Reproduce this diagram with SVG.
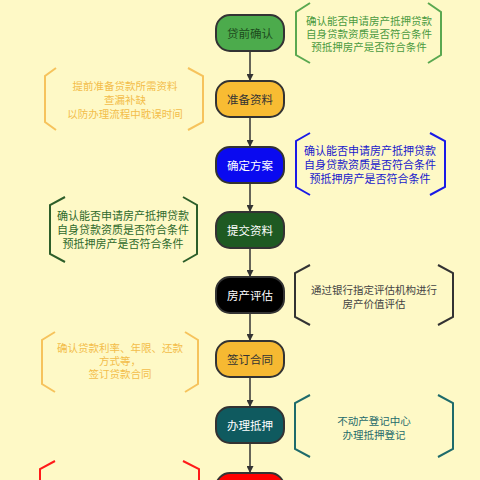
<svg xmlns="http://www.w3.org/2000/svg" width="480" height="480" viewBox="0 0 480 480">
<defs>
<marker id="ah" viewBox="0 0 10 10" refX="10" refY="5" markerWidth="7" markerHeight="7" markerUnits="userSpaceOnUse" orient="auto"><path d="M0,0 L10,5 L0,10 z" fill="#333"/></marker>
</defs>
<style>
text{font-family:"Noto Sans CJK SC","Noto Sans",sans-serif;text-anchor:middle;dominant-baseline:central}
.node rect{stroke:#333;stroke-width:2}
.nt{font-size:11.5px}
.nt2{font-size:10.5px}
.nt3{font-size:11px}
.br{fill:none;stroke-width:2}
.conn line{stroke:#333;stroke-width:1.5;marker-end:url(#ah)}
</style>
<rect width="480" height="480" fill="#fef9c6"/>
<g class="conn">
<line x1="250" y1="51" x2="250" y2="81"/>
<line x1="250" y1="117" x2="250" y2="147"/>
<line x1="250" y1="183" x2="250" y2="212"/>
<line x1="250" y1="248" x2="250" y2="277"/>
<line x1="250" y1="313" x2="250" y2="341"/>
<line x1="250" y1="377" x2="250" y2="407"/>
<line x1="250" y1="443" x2="250" y2="473"/>
</g>
<g id="n1" class="node"><rect x="216" y="15" width="68" height="36" rx="14" fill="#4cab4c"/><text class="nt" x="250" y="33" fill="#1c4a1c">贷前确认</text></g>
<g id="n2" class="node"><rect x="216" y="81" width="68" height="36" rx="14" fill="#f8bc33"/><text class="nt" x="250" y="99" fill="#333">准备资料</text></g>
<g id="n3" class="node"><rect x="216" y="147" width="68" height="36" rx="14" fill="#0a0af0"/><text class="nt" x="250" y="165" fill="#fff">确定方案</text></g>
<g id="n4" class="node"><rect x="216" y="212" width="68" height="36" rx="14" fill="#1e5a22"/><text class="nt" x="250" y="230" fill="#fff">提交资料</text></g>
<g id="n5" class="node"><rect x="216" y="277" width="68" height="36" rx="14" fill="#000"/><text class="nt" x="250" y="295" fill="#fff">房产评估</text></g>
<g id="n6" class="node"><rect x="216" y="341" width="68" height="36" rx="14" fill="#f6b932"/><text class="nt" x="250" y="359" fill="#333">签订合同</text></g>
<g id="n7" class="node"><rect x="216" y="407" width="68" height="36" rx="14" fill="#0f5a5f"/><text class="nt" x="250" y="425" fill="#fff">办理抵押</text></g>
<g id="n8" class="node"><rect x="216" y="473" width="68" height="36" rx="14" fill="#ff0000"/></g>

<g id="b1">
<path class="br" stroke="#5aa850" d="M310,3 L296,12 L296,55 L310,63 M428,3 L441,12 L441,55 L428,63"/>
<text class="nt2" fill="#4a9a40"><tspan x="369" y="20">确认能否申请房产抵押贷款</tspan><tspan x="369" y="33">自身贷款资质是否符合条件</tspan><tspan x="369" y="46">预抵押房产是否符合条件</tspan></text>
</g>
<g id="b2">
<path class="br" stroke="#f6c35c" d="M56,68 L45,76 L45,122 L56,130 M188,68 L203,76 L203,122 L188,130"/>
<text class="nt2" fill="#f3bd4a"><tspan x="125" y="85">提前准备贷款所需资料</tspan><tspan x="125" y="99">查漏补缺</tspan><tspan x="125" y="113">以防办理流程中耽误时间</tspan></text>
</g>
<g id="b3">
<path class="br" stroke="#1a1ae6" d="M310,133 L296,141 L296,187 L310,195 M430,133 L445,141 L445,187 L430,195"/>
<text class="nt3" fill="#1a1acc"><tspan x="370" y="150">确认能否申请房产抵押贷款</tspan><tspan x="370" y="164">自身贷款资质是否符合条件</tspan><tspan x="370" y="178">预抵押房产是否符合条件</tspan></text>
</g>
<g id="b4">
<path class="br" stroke="#2d5e2a" d="M65,197 L50,205 L50,254 L65,262 M183,197 L197,205 L197,254 L183,262"/>
<text class="nt3" fill="#2f6a2c"><tspan x="123" y="215">确认能否申请房产抵押贷款</tspan><tspan x="123" y="229">自身贷款资质是否符合条件</tspan><tspan x="123" y="243">预抵押房产是否符合条件</tspan></text>
</g>
<g id="b5">
<path class="br" stroke="#333" d="M310,265 L295,273 L295,317 L310,325 M438,265 L453,273 L453,317 L438,325"/>
<text class="nt2" fill="#444"><tspan x="374" y="289">通过银行指定评估机构进行</tspan><tspan x="374" y="303">房产价值评估</tspan></text>
</g>
<g id="b6">
<path class="br" stroke="#f6c35c" d="M55,332 L42,340 L42,384 L55,392 M185,332 L198,340 L198,384 L185,392"/>
<text class="nt2" fill="#f3bd4a"><tspan x="120" y="347">确认贷款利率、年限、还款</tspan><tspan x="120" y="360">方式等，</tspan><tspan x="120" y="373">签订贷款合同</tspan></text>
</g>
<g id="b7">
<path class="br" stroke="#1e6b6b" d="M310,395 L295,403 L295,449 L310,457 M438,395 L453,403 L453,449 L438,457"/>
<text class="nt2" fill="#1e6b6b"><tspan x="374" y="420">不动产登记中心</tspan><tspan x="374" y="434">办理抵押登记</tspan></text>
</g>
<g id="b8">
<path class="br" stroke="#ff1a1a" d="M55,461 L40,469 L40,490 M183,461 L199,469 L199,490"/>
</g>
</svg>
